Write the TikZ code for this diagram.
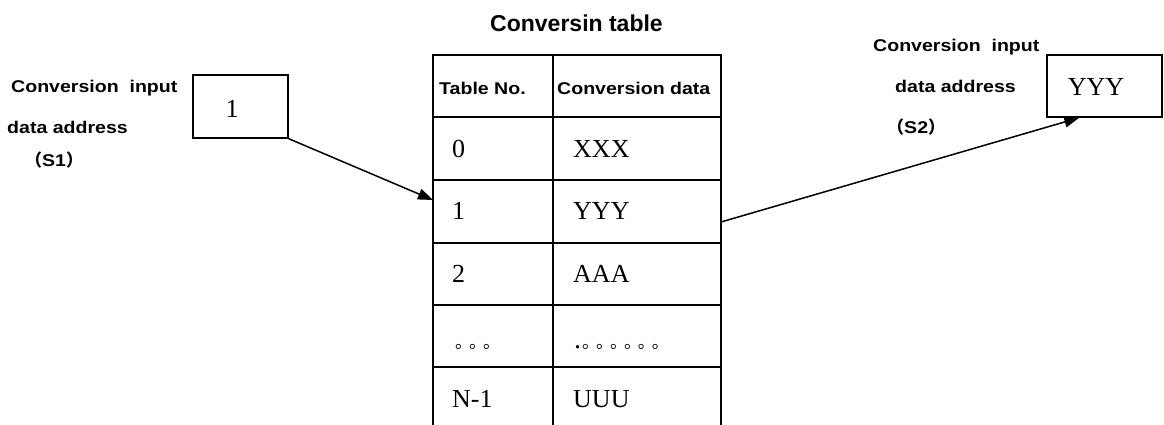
\documentclass[tikz,border=0pt]{standalone}
\usepackage{fontspec}
\setmainfont{Liberation Serif}
\setsansfont{Liberation Sans}
\newfontfamily\lblfont[FakeStretch=1.15]{Liberation Sans}
\newfontfamily\cjk{Noto Sans CJK SC}
\newfontfamily\dotfont[LetterSpace=-18]{Noto Sans CJK SC}
\usetikzlibrary{positioning,arrows.meta,calc}

\begin{document}
\begin{tikzpicture}[x=1pt,y=-1pt,
  >={Triangle[length=15pt,width=11pt]},
  lbl/.style={inner sep=0pt,anchor=base west,font=\lblfont\bfseries\fontsize{17}{20}\selectfont},
  val/.style={inner sep=0pt,anchor=west,font=\fontsize{26}{28}\selectfont},
  dots/.style={inner sep=0pt,anchor=base west,font=\dotfont\fontsize{17}{17}\selectfont},
  regbox/.style={rectangle,draw,line width=1.4pt,inner sep=0pt},
  grid/.style={line width=1.7pt},
  link/.style={->,line width=1.5pt}
]
  \useasboundingbox (0,0) rectangle (1164,425);

  % ---------- source (S1) ----------
  \node[regbox,minimum width=95pt,minimum height=63pt] (inbox) at (240.5,106.5) {};
  \node[val,anchor=center] (inval) at (232,109) {1};
  \node[lbl] (s1a) at (11,93) {Conversion~ input};
  \node[lbl] (s1b) at (7,134) {data address};
  \node[lbl] (s1c) at (25,166) {{\cjk （}S1{\cjk ）}};

  % ---------- conversion table ----------
  \node[inner sep=0pt,anchor=base,font=\sffamily\bfseries\fontsize{23}{26}\selectfont] (title) at (576.5,32) {Conversin table};
  \draw[grid] (433,425) -- (433,55) -- (721,55) -- (721,425);
  \draw[grid] (553,55) -- (553,425);
  \foreach \y in {117,180,243,305,367}
    \draw[grid] (433,\y) -- (721,\y);

  \node[lbl] (hno)  at (439,95) {Table No.};
  \node[lbl] (hdat) at (557,95) {Conversion data};
  \foreach \i/\y/\n/\d in {0/149/0/XXX,1/211/1/YYY,2/274/2/AAA,4/399/N-1/UUU}{
    \node[val] (no\i)  at (452,\y) {\n};
    \node[val] (dat\i) at (573,\y) {\d};
  }
  \node[dots] (no3)  at (455,348) {。。。};
  \node[dots] (dat3) at (574,348) {{\rmfamily\fontsize{28}{28}\selectfont.}\kern1pt 。。。。。。};

  % ---------- destination (S2) ----------
  \node[regbox,minimum width=115pt,minimum height=62pt] (outbox) at (1104.5,86) {};
  \node[val,anchor=center] (outval) at (1096,87) {YYY};
  \node[lbl] (s2a) at (873,52) {Conversion~ input};
  \node[lbl] (s2b) at (895,93) {data address};
  \node[lbl] (s2c) at (887,134) {{\cjk （}S2{\cjk ）}};

  % ---------- arrows ----------
  \coordinate (hit1) at (433,200);
  \coordinate (from1) at (721,222);
  \draw[link] (inbox.south east) -- (hit1);
  \draw[link] (from1) -- ([xshift=33pt]outbox.south west);
\end{tikzpicture}
\end{document}
